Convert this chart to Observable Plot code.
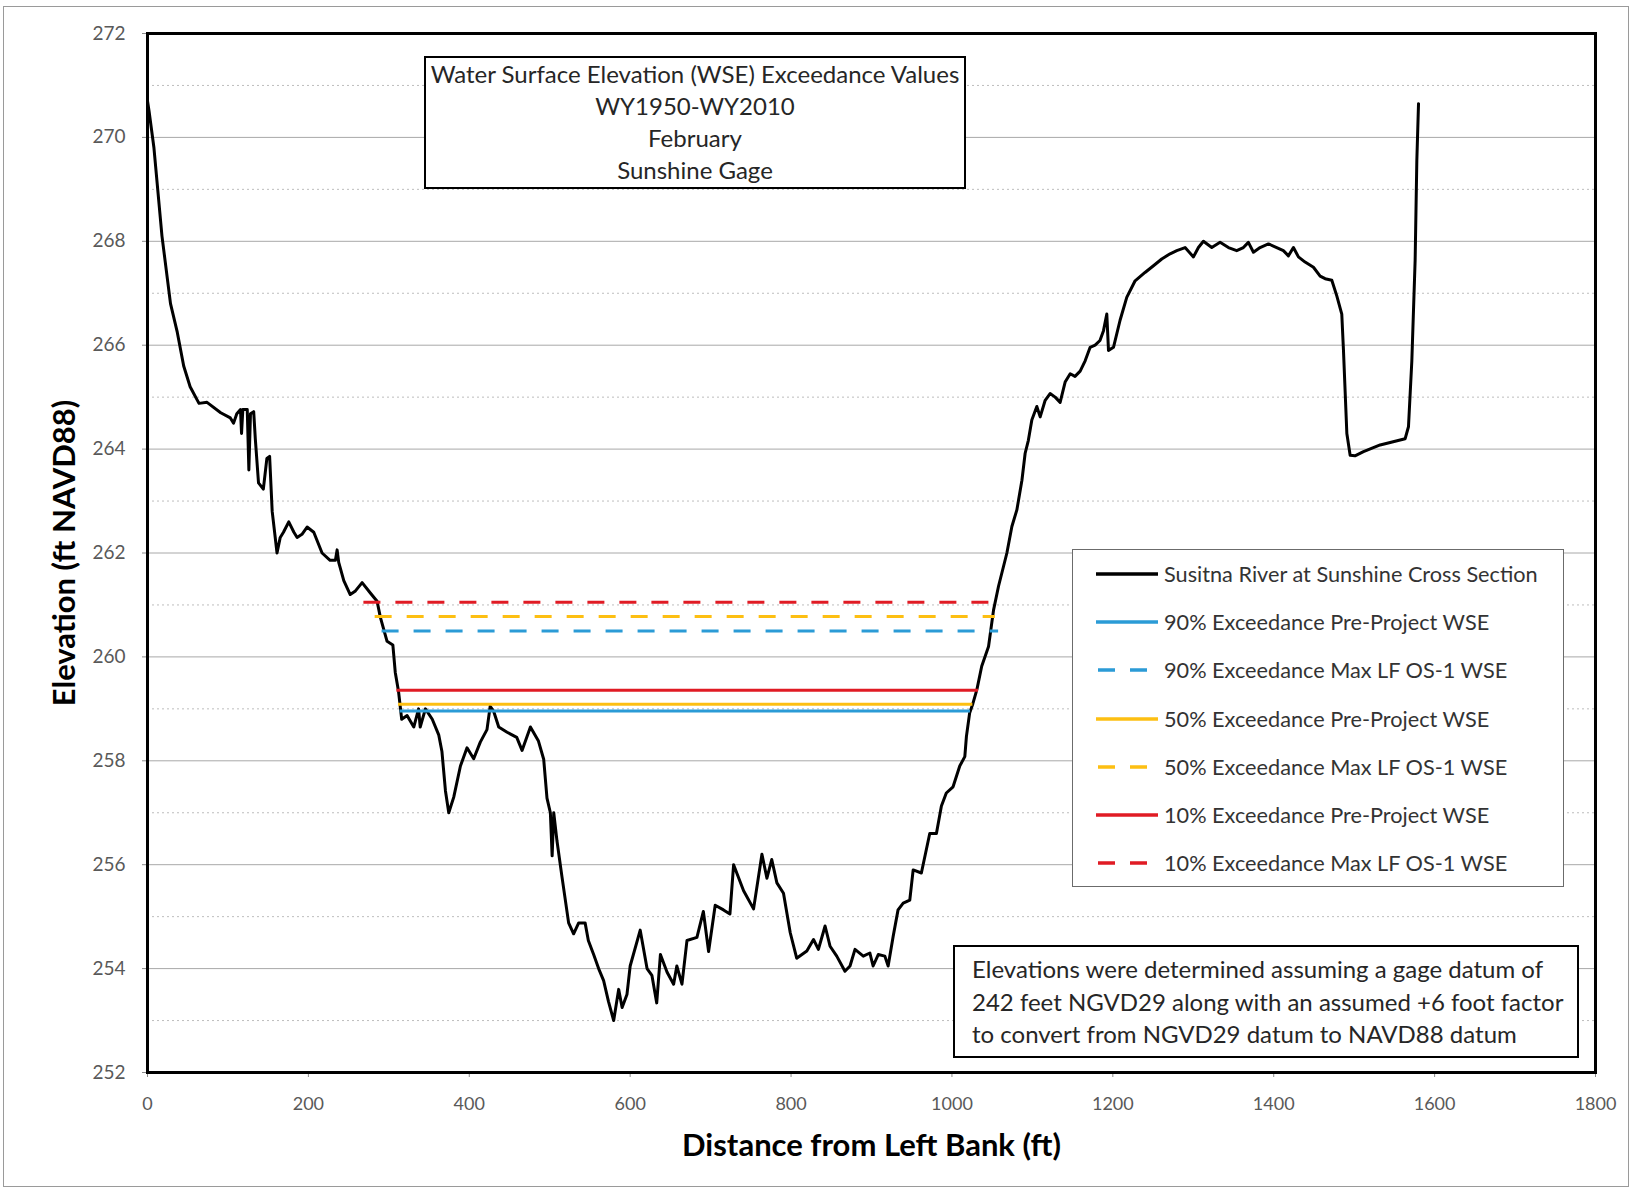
<!DOCTYPE html>
<html><head><meta charset="utf-8">
<script src="https://cdn.jsdelivr.net/npm/d3@7"></script>
<script src="https://cdn.jsdelivr.net/npm/@observablehq/plot@0.6"></script>
<style>
body{margin:0;background:#fff;font-family:Lato,"Open Sans",sans-serif;}
#wrap{position:relative;width:1634px;height:1191px;overflow:hidden;}
#outer{position:absolute;left:3px;top:6px;width:1624px;height:1179px;border:1px solid #9a9a9a;}
#chart{position:absolute;left:0;top:0;}
.box{position:absolute;background:#fff;box-sizing:border-box;}
#title{left:424px;top:56px;width:542px;height:133px;border:2px solid #000;text-align:center;font-size:24px;line-height:32px;padding-top:0px;color:#262626;white-space:nowrap;}
#note{left:953px;top:945px;width:626px;height:113px;border:2px solid #000;font-size:24px;line-height:32.5px;padding:6px 0 0 17px;color:#262626;white-space:nowrap;}
#legend{left:1072px;top:549px;width:492px;height:338px;border:1px solid #6b6b6b;}
.row{position:absolute;left:0;height:30px;display:flex;align-items:center;font-size:21.7px;color:#333;white-space:nowrap;}
.row svg{margin-left:23px;margin-right:6px;}
</style></head><body>
<div id="wrap"><div id="outer"></div><div id="chart"></div>
<div id="title" class="box"></div>
<div id="legend" class="box"></div>
<div id="note" class="box"></div>
</div>
<script>
// ---- data ----
const distance = [0,2,8,18,28.6,37,45,53,64,74,91,103,107,111,115.6,116.9,118.5,124,126,128,132,134,138,144,148.4,151.8,155,161,165,169,175.6,182,186,192,198.4,206.7,217,227,233.6,235.7,237.7,244,252,258.5,266.8,277,285.4,289.5,297.8,305,308,312,316,322.7,331,337,339,345.5,354,362,366,370.4,374.5,380.7,389,397.2,405.5,413.7,422,426,430.4,436.6,447,459,465.6,476,486,492.5,496.6,500.8,503,505,509,515.2,523.5,529.7,536,544,548,554.6,560.8,567,573,579.5,585.7,590,596,600,612.5,621,627,633,637.6,645.9,654,658,664.4,670.6,683,691,697.5,705.7,716,724,728.6,741,753.4,763.8,770,776,782.4,790.6,799,807,819.6,827.9,834,842.3,848.5,856.8,867,873.3,879.5,889.8,898,902,908.4,916.6,920.7,926.9,933,939.4,947.6,951.8,962,972.4,980.7,986.9,993,1001.4,1009.7,1016,1018,1022,1026,1031,1037,1045.5,1051.7,1057.9,1068.3,1074.5,1080.7,1087,1091,1095,1099.3,1105.5,1109.7,1115.9,1122,1128.3,1134.5,1140.7,1147,1153,1159.4,1165.6,1171.8,1178,1184,1188.4,1192.5,1194.6,1200.8,1209,1217.3,1227.7,1240,1250.5,1260.8,1271.2,1279.5,1289.8,1300.2,1306.4,1312.6,1323,1333.3,1343.7,1354,1362.3,1368.5,1374.8,1383,1393.4,1403.7,1412,1418.3,1424.5,1430.7,1439,1449.4,1457.7,1463.9,1472.2,1478.4,1484.6,1486.7,1490.9,1495,1501,1511.6,1532.3,1563.4,1567.5,1571.7,1575.8,1577.9,1580];
const elevation = [270.7,270.5,269.8,268.1,266.8,266.25,265.6,265.2,264.88,264.9,264.7,264.6,264.5,264.68,264.76,264.3,264.76,264.76,263.6,264.68,264.72,264.2,263.35,263.23,263.82,263.86,262.8,262.0,262.3,262.4,262.6,262.4,262.3,262.36,262.5,262.4,262.0,261.86,261.86,262.06,261.82,261.47,261.2,261.27,261.43,261.23,261.07,260.76,260.3,260.23,259.7,259.34,258.8,258.87,258.65,259.0,258.65,259.0,258.8,258.5,258.18,257.42,257.0,257.3,257.9,258.25,258.04,258.36,258.6,259.05,258.95,258.65,258.55,258.45,258.2,258.65,258.38,258.03,257.28,257.0,256.17,257.0,256.46,255.77,254.88,254.67,254.88,254.88,254.54,254.27,254.0,253.77,253.37,253.0,253.6,253.25,253.5,254.05,254.74,254.0,253.87,253.34,254.27,253.93,253.7,254.05,253.7,254.54,254.6,255.1,254.33,255.22,255.13,255.05,256.0,255.5,255.15,256.2,255.74,256.1,255.65,255.45,254.69,254.2,254.34,254.56,254.37,254.82,254.43,254.24,253.95,254.05,254.37,254.24,254.3,254.05,254.27,254.24,254.05,254.62,255.13,255.26,255.32,255.9,255.84,256.6,256.6,257.13,257.38,257.5,257.9,258.08,258.47,258.92,259.1,259.37,259.82,260.2,260.9,261.36,262.0,262.51,262.83,263.4,263.92,264.17,264.56,264.82,264.62,264.94,265.07,265.0,264.9,265.29,265.45,265.4,265.5,265.7,265.96,266.0,266.09,266.28,266.6,265.9,265.96,266.48,266.92,267.24,267.4,267.53,267.66,267.76,267.82,267.88,267.7,267.88,268.0,267.88,267.98,267.88,267.82,267.88,267.98,267.79,267.88,267.95,267.88,267.82,267.72,267.88,267.7,267.6,267.5,267.33,267.28,267.25,266.95,266.6,265.9,264.3,263.88,263.87,263.95,264.08,264.2,264.43,265.7,267.64,269.56,270.65];

const profileLabel = "Susitna River at Sunshine Cross Section";
const wseLabels = ["90% Exceedance Pre-Project WSE","90% Exceedance Max LF OS-1 WSE","50% Exceedance Pre-Project WSE","50% Exceedance Max LF OS-1 WSE","10% Exceedance Pre-Project WSE","10% Exceedance Max LF OS-1 WSE"];
const wseElevation = [258.96,260.5,259.09,260.78,259.36,261.05];
const wseStart = [314,291.6,312,283,310,269];
const wseEnd = [1023,1058,1026,1054,1033,1054];

const xTicks = [0,200,400,600,800,1000,1200,1400,1600,1800];
const yTicks = [252,254,256,258,260,262,264,266,268,270,272];
const yMinor = [253,255,257,259,261,263,265,267,269,271];

const titleLines = ["Water Surface Elevation (WSE) Exceedance Values","WY1950-WY2010","February","Sunshine Gage"];
const noteLines = ["Elevations were determined assuming a gage datum of","242 feet NGVD29 along with an assumed +6 foot factor","to convert from NGVD29 datum to NAVD88 datum"];
const xLabel = "Distance from Left Bank (ft)";
const yLabel = "Elevation (ft NAVD88)";

// ---- styles ----
const palette = {"90":"#2b9bd6","50":"#fdbf12","10":"#e01b24"};
const colorOf = l => palette[l.slice(0,2)];
const isDashed = l => l.includes("Max");

const profile = distance.map((d,i)=>({x:d, y:elevation[i]}));
const wse = wseLabels.map((l,i)=>({label:l, y:wseElevation[i], x1:wseStart[i], x2:wseEnd[i]}));

const chart = Plot.plot({
  width:1634, height:1191,
  marginLeft:147, marginRight:39, marginTop:33, marginBottom:119,
  style:{fontFamily:"Lato, 'Open Sans', sans-serif", background:"transparent"},
  x:{domain:[0,1800]},
  y:{domain:[252,272]},
  color:{domain:wseLabels, range:wseLabels.map(colorOf)},
  marks:[
    Plot.ruleY(yMinor,{stroke:"#bdbdbd", strokeWidth:1, strokeDasharray:"2,3"}),
    Plot.ruleY(yTicks,{stroke:"#a8a8a8", strokeWidth:1}),
    Plot.axisY({ticks:yTicks, tickSize:5, tickPadding:17, fontSize:19, color:"#595959", stroke:"#8a8a8a", label:null, tickFormat:d=>String(d)}),
    Plot.axisX({ticks:xTicks, tickSize:5, tickPadding:20, fontSize:18, color:"#595959", stroke:"#8a8a8a", label:null, tickFormat:d=>String(d)}),
    Plot.line(profile,{x:"x", y:"y", stroke:"#000", strokeWidth:3, strokeLinejoin:"round"}),
    Plot.ruleY(wse.filter(d=>!isDashed(d.label)),{y:"y", x1:"x1", x2:"x2", stroke:"label", strokeWidth:3}),
    Plot.ruleY(wse.filter(d=>isDashed(d.label)),{y:"y", x1:"x1", x2:"x2", stroke:"label", strokeWidth:3, strokeDasharray:"17,15"}),
    Plot.frame({stroke:"#000", strokeWidth:3}),
    Plot.text([yLabel],{frameAnchor:"left", textAnchor:"middle", dx:-82, rotate:-90, lineAnchor:"middle", fontSize:31, fontWeight:"bold", fill:"#000"}),
    Plot.text([xLabel],{frameAnchor:"bottom", textAnchor:"middle", dy:74, lineAnchor:"middle", fontSize:31, fontWeight:"bold", fill:"#000"})
  ]
});
document.getElementById("chart").appendChild(chart);

document.getElementById("title").innerHTML = titleLines.map(t=>`<div>${t}</div>`).join("");
document.getElementById("note").innerHTML = noteLines.map(t=>`<div>${t}</div>`).join("");

const legend = document.getElementById("legend");
const items = [{label:profileLabel, color:"#000", dashed:false}].concat(wseLabels.map(l=>({label:l, color:colorOf(l), dashed:isDashed(l)})));
items.forEach((it,i)=>{
  const row = document.createElement("div");
  row.className = "row";
  row.style.top = (9 + i*48.2) + "px";
  row.innerHTML = `<svg width="62" height="10"><line x1="0" x2="62" y1="5" y2="5" stroke="${it.color}" stroke-width="3.5" ${it.dashed ? 'stroke-dasharray="17,15" stroke-dashoffset="-2"' : ''}/></svg><span>${it.label}</span>`;
  legend.appendChild(row);
});
</script>
</body></html>
